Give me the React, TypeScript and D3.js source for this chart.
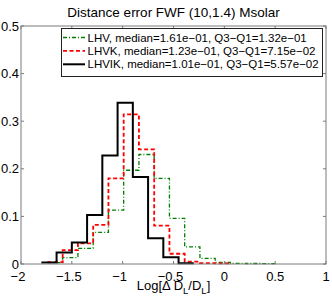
import React, { useEffect, useRef } from "react";
import * as d3 from "d3";

const xTicks = [-2, -1.5, -1, -0.5, 0, 0.5, 1];
const yTicks = [0, 0.1, 0.2, 0.3, 0.4, 0.5];

// bin edges, log10 of relative distance error
const lhvikEdges = [-1.8, -1.65, -1.5, -1.35, -1.2, -1.05, -0.9, -0.75, -0.6, -0.45, -0.3];
const lhvikValues = [0.003, 0.024, 0.045, 0.103, 0.228, 0.339, 0.183, 0.054, 0.014, 0.0015];

const lhvEdges = [-1.74, -1.59, -1.44, -1.29, -1.14, -0.99, -0.84, -0.69, -0.54, -0.39, -0.24, -0.09, 0.06, 0.21, 0.36, 0.51];
const lhvkValues = [0.004, 0.029, 0.0435, 0.082, 0.18, 0.3145, 0.241, 0.0805, 0.0215, 0.005, 0.002, 0.0015];
const lhvValues = [0.003, 0.0135, 0.033, 0.0666, 0.113, 0.197, 0.23, 0.18, 0.096, 0.036, 0.012, 0.0036, 0.0015, 0.001, 0.0006];

const legendLabels = [
  "LHV, median=1.61e\u221201, Q3\u2212Q1=1.32e\u221201",
  "LHVK, median=1.23e\u221201, Q3\u2212Q1=7.15e\u221202",
  "LHVIK, median=1.01e\u221201, Q3\u2212Q1=5.57e\u221202",
];

const App = () => {
  const ref = useRef<SVGSVGElement>(null);

  useEffect(() => {
    const svg = d3.select(ref.current);
    svg.selectAll("*").remove();

    const x = d3.scaleLinear().domain([-2, 1]).range([21, 326]);
    const y = d3.scaleLinear().domain([0, 0.5]).range([264, 26]);
    const font = "'Liberation Sans', Arial, sans-serif";
    const axisColor = "#7a7a7a";

    const series = [
      { edges: lhvEdges, values: lhvValues, color: "#008000", width: 1.3, dash: "4,2,1,2" },
      { edges: lhvEdges, values: lhvkValues, color: "#ff0000", width: 1.8, dash: "4,2.5" },
      { edges: lhvikEdges, values: lhvikValues, color: "#000000", width: 2, dash: null },
    ];

    svg
      .append("rect")
      .attr("x", 21)
      .attr("y", 26)
      .attr("width", 305)
      .attr("height", 238)
      .attr("fill", "white");

    const line = d3
      .line<[number, number]>()
      .x((d) => x(d[0]))
      .y((d) => y(d[1]))
      .curve(d3.curveStepAfter);

    series.forEach((s) => {
      const pts: [number, number][] = s.values.map((v, i) => [s.edges[i], v]);
      pts.push([s.edges[s.values.length], s.values[s.values.length - 1]]);
      svg
        .append("path")
        .attr("d", line(pts))
        .attr("fill", "none")
        .attr("stroke", s.color)
        .attr("stroke-width", s.width)
        .attr("stroke-dasharray", s.dash);
    });

    // axes box
    svg
      .append("rect")
      .attr("x", 21)
      .attr("y", 26)
      .attr("width", 305)
      .attr("height", 238)
      .attr("fill", "none")
      .attr("stroke", axisColor)
      .attr("stroke-width", 1);

    const g = svg.append("g").attr("stroke", axisColor).attr("stroke-width", 1);
    xTicks.forEach((t) => {
      g.append("line").attr("x1", x(t)).attr("x2", x(t)).attr("y1", 264).attr("y2", 261);
      g.append("line").attr("x1", x(t)).attr("x2", x(t)).attr("y1", 26).attr("y2", 29);
    });
    yTicks.forEach((t) => {
      g.append("line").attr("x1", 21).attr("x2", 24).attr("y1", y(t)).attr("y2", y(t));
      g.append("line").attr("x1", 326).attr("x2", 323).attr("y1", y(t)).attr("y2", y(t));
    });

    svg
      .append("g")
      .selectAll("text")
      .data(xTicks)
      .join("text")
      .attr("x", (d) => x(d) - (d < 0 ? 3 : 0))
      .attr("y", 280.5)
      .attr("text-anchor", "middle")
      .attr("font-family", font)
      .attr("font-size", 13)
      .text((d) => (d < 0 ? "\u2212" + Math.abs(d) : String(d)));

    svg
      .append("g")
      .selectAll("text")
      .data(yTicks)
      .join("text")
      .attr("x", 19)
      .attr("y", (d) => y(d))
      .attr("dy", "0.35em")
      .attr("text-anchor", "end")
      .attr("font-family", font)
      .attr("font-size", 13)
      .text((d) => String(d));

    svg
      .append("text")
      .attr("x", 173.5)
      .attr("y", 16.5)
      .attr("text-anchor", "middle")
      .attr("font-family", font)
      .attr("font-size", 13.5)
      .text("Distance error FWF (10,1.4) Msolar");

    const xl = svg
      .append("text")
      .attr("x", 173.5)
      .attr("y", 289.5)
      .attr("text-anchor", "middle")
      .attr("font-family", font)
      .attr("font-size", 13);
    xl.append("tspan").text("Log[\u0394 D");
    xl.append("tspan").attr("font-size", 9.5).attr("dy", 4).text("L");
    xl.append("tspan").attr("dy", -4).text("/D");
    xl.append("tspan").attr("font-size", 9.5).attr("dy", 4).text("L");
    xl.append("tspan").attr("dy", -4).text("]");

    // legend
    const lg = svg.append("g");
    lg.append("rect")
      .attr("x", 61.5)
      .attr("y", 28.5)
      .attr("width", 261)
      .attr("height", 48)
      .attr("fill", "white")
      .attr("stroke", "#222")
      .attr("stroke-width", 1);

    series.forEach((s, i) => {
      const ly = 37.5 + i * 13.4;
      lg.append("line")
        .attr("x1", 63)
        .attr("x2", 85)
        .attr("y1", ly)
        .attr("y2", ly)
        .attr("stroke", s.color)
        .attr("stroke-width", s.width)
        .attr("stroke-dasharray", s.dash);
      lg.append("text")
        .attr("x", 87.5)
        .attr("y", ly)
        .attr("dy", "0.35em")
        .attr("font-family", font)
        .attr("font-size", 11.5)
        .text(legendLabels[i]);
    });
  });

  return (
    <svg
      ref={ref}
      width={332}
      height={299}
      style={{ position: "absolute", left: 0, top: 0, background: "white" }}
    ></svg>
  );
};

export default App;
